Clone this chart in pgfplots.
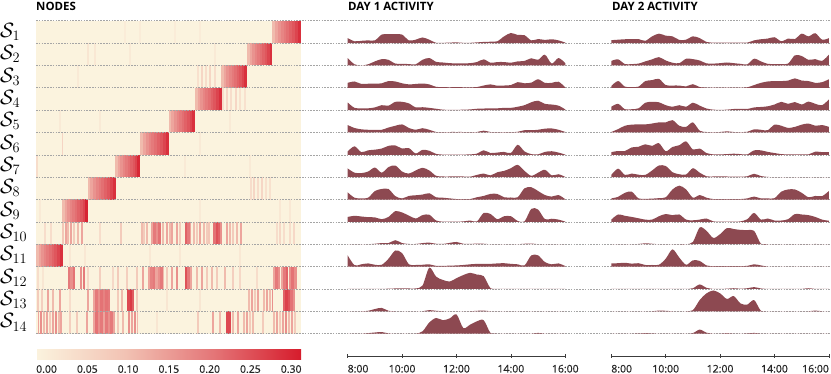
\documentclass[border=0pt]{standalone}
\usepackage{fontspec}
\setmainfont{Open Sans}
\newfontfamily\tickfont{Open Sans}[FakeBold=0.6]
\usepackage{pgfplots}
\usepackage{pgfplotstable}
\pgfplotsset{compat=1.18}

\definecolor{cream}{RGB}{251,243,222}
\definecolor{ridge}{RGB}{141,73,81}
\definecolor{gridgray}{RGB}{165,165,165}
\definecolor{axisgray}{RGB}{60,60,60}

% heatmap stripes: x position (px), row, value, width (px)
\pgfplotstableread{
x r c w
273.64 1 0.12 2.88
276.52 1 0.15 2.88
279.40 1 0.175 2.88
282.28 1 0.195 2.88
285.16 1 0.21 2.88
288.04 1 0.225 2.88
290.92 1 0.24 2.88
293.80 1 0.255 2.88
296.68 1 0.275 2.88
299.56 1 0.30 2.88
248.45 2 0.12 2.5
250.95 2 0.15 2.5
253.45 2 0.175 2.5
255.95 2 0.195 2.5
258.45 2 0.21 2.5
260.95 2 0.225 2.5
263.45 2 0.24 2.5
265.95 2 0.255 2.5
268.45 2 0.275 2.5
270.95 2 0.30 2.5
222.79 3 0.12 2.57
225.36 3 0.15 2.57
227.93 3 0.175 2.57
230.50 3 0.195 2.57
233.07 3 0.21 2.57
235.64 3 0.225 2.57
238.21 3 0.24 2.57
240.78 3 0.255 2.57
243.35 3 0.275 2.57
245.92 3 0.30 2.57
196.33 4 0.12 2.65
198.98 4 0.15 2.65
201.63 4 0.175 2.65
204.28 4 0.195 2.65
206.93 4 0.21 2.65
209.58 4 0.225 2.65
212.23 4 0.24 2.65
214.88 4 0.255 2.65
217.53 4 0.275 2.65
220.18 4 0.30 2.65
170.3 5 0.12 2.6
172.9 5 0.15 2.6
175.5 5 0.175 2.6
178.1 5 0.195 2.6
180.7 5 0.21 2.6
183.3 5 0.225 2.6
185.9 5 0.24 2.6
188.5 5 0.255 2.6
191.1 5 0.275 2.6
193.7 5 0.30 2.6
141.45 6 0.12 2.9
144.35 6 0.15 2.9
147.25 6 0.175 2.9
150.15 6 0.195 2.9
153.05 6 0.21 2.9
155.95 6 0.225 2.9
158.85 6 0.24 2.9
161.75 6 0.255 2.9
164.65 6 0.275 2.9
167.55 6 0.30 2.9
116.73 7 0.12 2.45
119.18 7 0.15 2.45
121.63 7 0.175 2.45
124.08 7 0.195 2.45
126.53 7 0.21 2.45
128.98 7 0.225 2.45
131.43 7 0.24 2.45
133.88 7 0.255 2.45
136.33 7 0.275 2.45
138.78 7 0.31 2.45
89.09 8 0.12 2.78
91.87 8 0.15 2.78
94.65 8 0.175 2.78
97.43 8 0.195 2.78
100.21 8 0.21 2.78
102.99 8 0.225 2.78
105.77 8 0.24 2.78
108.55 8 0.255 2.78
111.33 8 0.275 2.78
114.11 8 0.30 2.78
63.76 9 0.12 2.52
66.28 9 0.15 2.52
68.80 9 0.175 2.52
71.32 9 0.195 2.52
73.84 9 0.21 2.52
76.36 9 0.225 2.52
78.88 9 0.24 2.52
81.40 9 0.255 2.52
83.92 9 0.275 2.52
86.44 9 0.315 2.52
37.33 11 0.12 2.65
39.98 11 0.15 2.65
42.63 11 0.175 2.65
45.28 11 0.195 2.65
47.93 11 0.21 2.65
50.58 11 0.225 2.65
53.23 11 0.24 2.65
55.88 11 0.255 2.65
58.53 11 0.275 2.65
61.18 11 0.30 2.65
125 1 0.015 1.5
140 1 0.015 1.5
175 1 0.015 1.5
200 1 0.015 1.5
88 2 0.03 1.5
95 2 0.025 1.5
130 2 0.02 1.5
215 2 0.02 1.5
78 3 0.02 1.5
198 3 0.04 1.5
202 3 0.065 1.5
206 3 0.05 1.5
210 3 0.065 1.5
215 3 0.05 1.5
223 4 0.05 1.5
227 4 0.065 1.5
231 4 0.05 1.5
236 4 0.065 1.5
240 4 0.04 1.5
245 4 0.04 1.5
60 5 0.02 1.5
100 5 0.02 1.5
230 5 0.02 1.5
62.3 6 0.07 1.2
200 6 0.02 1.5
37 7 0.05 1.5
185 7 0.02 1.5
250 7 0.02 1.5
251 8 0.05 1.5
254 8 0.065 1.5
258 8 0.05 1.5
262 8 0.065 1.5
266 8 0.04 1.5
270 8 0.04 1.5
40 9 0.02 1.5
200 9 0.02 1.5
280 9 0.025 1.5
290 9 0.025 1.5
45 10 0.05 1.5
50.7 10 0.05 1.5
63.3 10 0.1 1.5
65.7 10 0.15 1.5
68.3 10 0.12 1.5
70.7 10 0.15 1.5
74 10 0.09 1.5
77.7 10 0.12 1.5
82 10 0.15 1.5
100 10 0.05 1.5
120.7 10 0.09 1.5
141.7 10 0.12 1.5
144 10 0.09 1.5
146.7 10 0.12 1.5
152 10 0.15 2.5
154.5 10 0.21 2.5
157 10 0.18 2.5
159.5 10 0.22 2.5
163.3 10 0.12 1.5
166.7 10 0.15 1.5
170 10 0.12 1.5
172 10 0.15 1.5
176.7 10 0.15 1.5
180 10 0.09 1.5
186 10 0.24 2.5
188.5 10 0.21 2.5
190.5 10 0.15 1.5
194 10 0.12 1.5
196.7 10 0.09 1.5
200 10 0.15 1.5
204 10 0.12 1.5
206.7 10 0.09 1.5
209.3 10 0.1 1.5
214.5 10 0.22 2.5
217 10 0.26 2.5
219.5 10 0.24 2.5
221 10 0.18 1.5
226.7 10 0.15 1.5
230 10 0.12 1.5
233.3 10 0.09 1.5
236.7 10 0.12 1.5
240.7 10 0.15 1.5
276.7 10 0.05 1.5
280 10 0.06 1.5
284 10 0.05 1.5
290 10 0.05 1.5
294 10 0.06 1.5
70 11 0.025 1.5
85 11 0.025 1.5
150 11 0.025 1.5
180 11 0.025 1.5
240 11 0.025 1.5
38.3 12 0.05 1.5
43.3 12 0.03 1.5
69 12 0.21 2.5
71.5 12 0.18 2.5
74 12 0.22 2.5
81 12 0.18 2.5
84 12 0.21 2.5
88.3 12 0.06 1.5
100 12 0.08 1.5
113.3 12 0.06 1.5
118.3 12 0.09 1.5
126.7 12 0.08 1.5
136.7 12 0.09 1.5
142.7 12 0.15 1.5
149 12 0.15 2.5
151.5 12 0.2 2.5
154 12 0.21 2.5
156.5 12 0.15 2.5
159 12 0.18 2.5
161.5 12 0.21 2.5
163.5 12 0.12 1.5
166.7 12 0.09 1.5
171.7 12 0.15 1.5
176.7 12 0.18 1.5
186 12 0.26 2.5
188.5 12 0.21 2.5
191 12 0.15 2.5
196.7 12 0.12 1.5
201.7 12 0.15 1.5
206.7 12 0.09 1.5
211.7 12 0.12 1.5
216.7 12 0.09 1.5
225 12 0.12 1.5
233.3 12 0.08 1.5
240 12 0.06 1.5
256.7 12 0.05 1.5
274 12 0.15 2.5
276.5 12 0.21 2.5
279 12 0.18 2.5
282 12 0.15 2.5
284.5 12 0.21 2.5
287 12 0.24 2.5
290 12 0.18 2.5
292.5 12 0.22 2.5
295.5 12 0.18 2.5
38.3 13 0.09 1.5
41.7 13 0.08 1.5
48.3 13 0.15 1.5
53.3 13 0.12 1.5
60 13 0.15 1.5
70 13 0.05 1.5
88.3 13 0.15 1.5
94 13 0.15 2.5
96.5 13 0.21 2.5
99 13 0.18 2.5
101.5 13 0.22 2.5
104 13 0.2 2.5
106.5 13 0.22 2.5
109 13 0.21 2.5
118.3 13 0.09 1.5
121.7 13 0.12 1.5
128.5 13 0.27 2.5
131 13 0.29 2.5
133 13 0.25 1.5
136.7 13 0.09 1.5
166.7 13 0.03 1.5
200 13 0.03 1.5
249 13 0.12 1.5
252 13 0.15 1.5
255 13 0.09 1.5
258 13 0.15 1.5
264 13 0.12 1.5
267 13 0.15 1.5
270 13 0.12 1.5
272.5 13 0.18 1.5
284 13 0.24 2.5
286.5 13 0.28 2.5
289 13 0.26 2.5
291.5 13 0.22 2.5
294 13 0.18 2.5
38.5 14 0.15 1.5
41 14 0.18 1.5
44 14 0.12 1.5
47 14 0.15 1.5
50 14 0.09 1.5
53 14 0.15 1.5
56 14 0.18 1.5
59 14 0.12 1.5
61 14 0.15 1.5
70 14 0.08 1.5
76.7 14 0.09 1.5
87.3 14 0.15 1.5
94 14 0.15 2.5
96.5 14 0.22 2.5
99 14 0.18 2.5
101.5 14 0.21 2.5
104 14 0.15 2.5
106.5 14 0.21 2.5
109 14 0.18 2.5
111.5 14 0.21 2.5
114 14 0.15 2.5
118.3 14 0.09 1.5
123.3 14 0.12 1.5
129 14 0.18 2.5
132 14 0.15 2.5
135 14 0.18 2.5
137.5 14 0.12 1.5
156.7 14 0.03 1.5
198.3 14 0.09 1.5
213.3 14 0.15 1.5
220 14 0.12 1.5
227.5 14 0.27 2.5
230 14 0.27 2.5
233.3 14 0.12 1.5
238.3 14 0.15 1.5
244 14 0.12 1.5
247 14 0.15 1.5
250 14 0.09 1.5
253 14 0.12 1.5
263.3 14 0.09 1.5
274 14 0.12 1.5
277 14 0.15 1.5
280 14 0.09 1.5
283 14 0.15 1.5
286 14 0.18 1.5
289 14 0.12 1.5
292 14 0.15 1.5
295 14 0.09 1.5
}\stripes

% activity heights (fraction of a row) per quarter hour, day 1
\pgfplotstableread{
t r1 r2 r3 r4 r5 r6 r7 r8 r9 r10 r11 r12 r13 r14
8.00 0.22 0.33 0.22 0.34 0.33 0.15 0.39 0.32 0.22 0 0.5 0 0 0
8.25 0.08 0.05 0.28 0.1 0.2 0.38 0.2 0.08 0.27 0 0.06 0 0 0
8.50 0.10 0.0 0.17 0.08 0.14 0.12 0.18 0.05 0.24 0 0.1 0 0 0
8.75 0.12 0.05 0.18 0.08 0.12 0.2 0.25 0.08 0.21 0 0.14 0 0.02 0.02
9.00 0.12 0.18 0.18 0.12 0.12 0.23 0.43 0.38 0.2 0.02 0.08 0 0.1 0.05
9.25 0.38 0.28 0.2 0.22 0.12 0.28 0.2 0.47 0.12 0.05 0.08 0 0.15 0.07
9.50 0.40 0.25 0.3 0.2 0.22 0.4 0.45 0.47 0.22 0.05 0.35 0.01 0.02 0.01
9.75 0.40 0.08 0.28 0.37 0.3 0.42 0.52 0.15 0.48 0.18 0.72 0.02 0 0
10.00 0.38 0.07 0.2 0.37 0.36 0.28 0.25 0.05 0.42 0.05 0.6 0.02 0 0
10.25 0.12 0.06 0.15 0.3 0.2 0.3 0.16 0.16 0.28 0.01 0.1 0.02 0 0
10.50 0.15 0.05 0.17 0.12 0.12 0.06 0.3 0.19 0.15 0.01 0.07 0.02 0 0
10.75 0.25 0.25 0.19 0.13 0.19 0.22 0.42 0.22 0.3 0.05 0.08 0.15 0 0.1
11.00 0.15 0.33 0.15 0.1 0.12 0.18 0.3 0.28 0.32 0.07 0.1 0.95 0.05 0.5
11.25 0.01 0.16 0.04 0.06 0.02 0.04 0.06 0.1 0.06 0.02 0.03 0.55 0.02 0.7
11.50 0.01 0.13 0.03 0.02 0.01 0.01 0.03 0.08 0.01 0.01 0.03 0.4 0 0.6
11.75 0.02 0.1 0.02 0.01 0.02 0.01 0.03 0.05 0.01 0.06 0.04 0.33 0 0.68
12.00 0.03 0.09 0.03 0.01 0.02 0.01 0.04 0.02 0.01 0.1 0.05 0.48 0 0.86
12.25 0.01 0.09 0.02 0.02 0.02 0.01 0.03 0.02 0.02 0.02 0.07 0.62 0 0.25
12.50 0.01 0.1 0.02 0.03 0.01 0.02 0.02 0.02 0.06 0.01 0.1 0.72 0 0.4
12.75 0.03 0.15 0.03 0.06 0.02 0.05 0.1 0.1 0.02 0.03 0.12 0.64 0.02 0.55
13.00 0.05 0.27 0.1 0.07 0.08 0.2 0.16 0.16 0.4 0.02 0.12 0.57 0.03 0.6
13.25 0.06 0.12 0.15 0.08 0.02 0.08 0.08 0.25 0.35 0 0.12 0.03 0 0.03
13.50 0.08 0.15 0.09 0.08 0.01 0.1 0.22 0.25 0.12 0 0.14 0 0 0
13.75 0.30 0.15 0.1 0.1 0.01 0.13 0.28 0.1 0.25 0 0.15 0 0 0
14.00 0.45 0.12 0.12 0.1 0.01 0.08 0.4 0.09 0.25 0 0.12 0 0 0
14.25 0.36 0.18 0.25 0.15 0.03 0.45 0.55 0.1 0.04 0 0.1 0 0 0
14.50 0.35 0.2 0.2 0.22 0.1 0.15 0.28 0.5 0.02 0.02 0.05 0 0 0
14.75 0.12 0.32 0.23 0.35 0.1 0.03 0.06 0.55 0.58 0.03 0.5 0 0 0
15.00 0.18 0.25 0.38 0.42 0.12 0.02 0.2 0.38 0.55 0 0.5 0 0 0.03
15.25 0.14 0.48 0.22 0.28 0.17 0.13 0.33 0.2 0.12 0 0.2 0 0 0
15.50 0.17 0.08 0.22 0.25 0.18 0.16 0.08 0.13 0.14 0 0.1 0 0 0
15.75 0.12 0.33 0.27 0.2 0.12 0.1 0.13 0.2 0.1 0 0.14 0 0 0
16.00 0.02 0.1 0.02 0.03 0.02 0.01 0.01 0.01 0.01 0 0.02 0 0 0
}\dayone

% day 2
\pgfplotstableread{
t r1 r2 r3 r4 r5 r6 r7 r8 r9 r10 r11 r12 r13 r14
8.00 0.13 0.2 0.08 0.15 0.02 0.12 0.1 0.05 0.1 0 0.14 0 0 0
8.25 0.15 0.27 0.3 0.28 0.15 0.17 0.38 0.12 0.33 0 0.15 0 0 0
8.50 0.17 0.06 0.05 0.04 0.3 0.17 0.1 0.3 0.27 0 0.17 0 0 0
8.75 0.17 0.06 0.03 0.04 0.35 0.33 0.16 0.35 0.22 0 0.13 0 0 0
9.00 0.18 0.08 0.05 0.08 0.36 0.36 0.11 0.05 0.16 0.01 0.15 0 0 0.01
9.25 0.1 0.18 0.3 0.33 0.36 0.47 0.1 0.03 0.1 0.04 0.07 0 0 0.02
9.50 0.3 0.27 0.34 0.37 0.4 0.4 0.3 0.04 0.1 0.02 0.07 0 0 0.01
9.75 0.42 0.37 0.4 0.35 0.45 0.52 0.52 0.06 0.25 0 0.08 0 0.03 0
10.00 0.33 0.22 0.12 0.22 0.45 0.16 0.5 0.1 0.35 0 0.35 0 0.02 0
10.25 0.3 0.12 0.1 0.15 0.55 0.35 0.22 0.45 0.3 0 0.77 0 0 0
10.50 0.14 0.1 0.1 0.22 0.3 0.43 0.13 0.62 0.33 0 0.4 0 0 0
10.75 0.15 0.3 0.06 0.15 0.25 0.6 0.12 0.45 0.1 0 0.08 0 0 0
11.00 0.3 0.28 0.16 0.33 0.45 0.24 0.4 0.08 0.07 0.1 0.28 0.03 0.05 0.02
11.25 0.22 0.22 0.03 0.2 0.08 0.28 0.2 0.2 0.1 0.75 0.25 0.2 0.5 0.18
11.50 0.05 0.09 0.01 0.07 0.02 0.08 0.04 0.08 0.15 0.6 0.05 0.05 0.8 0.04
11.75 0.02 0.08 0.01 0.02 0.02 0.02 0.03 0.02 0.02 0.28 0.02 0 0.93 0
12.00 0.02 0.1 0.01 0.01 0.02 0.02 0.03 0.02 0.01 0.45 0.02 0 0.8 0
12.25 0.02 0.13 0.01 0.02 0.05 0.03 0.03 0.02 0.01 0.72 0.02 0.01 0.55 0.02
12.50 0.02 0.1 0.01 0.05 0.02 0.05 0.02 0.02 0.01 0.68 0.02 0.03 0.68 0
12.75 0.02 0.07 0.01 0.06 0.02 0.03 0.02 0.02 0.02 0.64 0.02 0.01 0.35 0
13.00 0.02 0.05 0.02 0.05 0.03 0.02 0.04 0.05 0.12 0.63 0.03 0.03 0.3 0.01
13.25 0.12 0.3 0.12 0.12 0.14 0.2 0.15 0.13 0.4 0.6 0.1 0.08 0.5 0.03
13.50 0.17 0.18 0.22 0.14 0.12 0.2 0.05 0.05 0.1 0.02 0.05 0.02 0.02 0
13.75 0.2 0.07 0.28 0.17 0.1 0.13 0.01 0.05 0.15 0 0 0 0 0
14.00 0.26 0.06 0.3 0.25 0.35 0.08 0 0.06 0.06 0 0 0 0 0
14.25 0.08 0.06 0.3 0.37 0.3 0.03 0 0.35 0.06 0 0 0 0 0
14.50 0.2 0.08 0.32 0.28 0.2 0.02 0 0.45 0.12 0 0 0 0 0
14.75 0.18 0.45 0.42 0.36 0.25 0.02 0 0.45 0.35 0 0 0 0 0
15.00 0.42 0.42 0.32 0.25 0.35 0.02 0 0.3 0.33 0 0 0 0 0
15.25 0.3 0.25 0.3 0.38 0.4 0.02 0 0.1 0.3 0 0 0.03 0 0
15.50 0.44 0.28 0.22 0.28 0.3 0.14 0 0.16 0.22 0.01 0 0 0.03 0
15.75 0.15 0.2 0.25 0.22 0.33 0.12 0 0.15 0.1 0 0 0 0 0
16.00 0.22 0.48 0.38 0.48 0.25 0.12 0 0.38 0.05 0 0 0 0 0
}\daytwo

\pgfplotsset{
  ridgefill/.style={fill=ridge, draw=none, smooth, tension=0.5, no markers},
  dayaxis/.style={
    anchor=south west, scale only axis,
    width=217.6bp, height=335.25bp,
    xmin=8, xmax=16, ymin=0, ymax=15,
    axis x line*=bottom, axis y line=none,
    x axis line style={draw=axisgray, line width=0.8bp, -},
    xtick={8,10,12,14,16},
    tick align=center, major tick length=3.5bp,
    tick style={draw=axisgray, line width=0.7bp},
    xticklabel style={font=\tickfont\fontsize{10.5}{12}\selectfont, text=black!85,
      inner xsep=0pt, inner ysep=0.5bp},
    xticklabel shift=6.5bp,
    clip=false,
  },
}

\begin{document}
\begin{tikzpicture}
\useasboundingbox (0,0) rectangle (831bp,-374bp);

% ---- heatmap of node membership ----
\begin{axis}[
  at={(36bp,-333.6bp)}, anchor=south west,
  scale only axis, width=265bp, height=312.9bp,
  xmin=36, xmax=301, ymin=0, ymax=14,
  axis line style={draw=none}, xtick=\empty, ytick=\empty,
  axis background/.style={fill=cream},
  colormap={heat}{rgb255=(251,243,222) rgb255=(242,195,180) rgb255=(228,118,120) rgb255=(214,28,44)},
  point meta min=0, point meta max=0.325,
  colorbar horizontal,
  colorbar style={
    at={(parent axis.south west)}, anchor=north west, yshift=-7.5bp,
    scale only axis, width=265bp, height=9.4bp,
    axis line style={draw=none},
    major tick length=0pt,
    xtick={0,0.05,0.1,0.15,0.2,0.25,0.3},
    /pgf/number format/assume math mode=true,
    xticklabel style={font=\tickfont\fontsize{10.5}{12}\selectfont, text=black!85,
      anchor=north west, inner xsep=0pt, inner ysep=0.5bp,
      /pgf/number format/fixed, /pgf/number format/fixed zerofill,
      /pgf/number format/precision=2},
    xticklabel shift=5.5bp,
  },
]
\addplot[scatter, only marks, mark=|, mark size=11.18bp,
  point meta=explicit,
  scatter/use mapped color={draw=mapped color, fill=mapped color},
  visualization depends on={\thisrow{w} \as \stripew},
  scatter/@pre marker code/.append code={\pgfsetlinewidth{\stripew*1bp+0.3bp}}]
  table[x=x, y expr=14.5-\thisrow{r}, meta=c] {\stripes};
\end{axis}

% row separators
\foreach \k in {0,...,14}{
  \pgfmathsetmacro\yy{-(20.7+\k*22.35)}
  \draw[gridgray, line width=0.6bp, dash pattern=on 1.6bp off 1.2bp] (36bp,\yy bp) -- (831bp,\yy bp);
}

% row labels
\foreach \i in {1,...,14}{
  \pgfmathsetmacro\yy{-(20.7+(\i-0.5)*22.35)}
  \node[anchor=west, inner sep=0pt, font=\fontsize{21.5}{23}\selectfont] at (0bp,\yy bp) {$\mathcal{S}_{\i}$};
}

% ---- day 1 activity ----
\begin{axis}[dayaxis, at={(347.7bp,-355.95bp)},
  xticklabels={\rlap{8:00},10:00,12:00,14:00,16:00}]
\foreach \i/\b in {1/14,2/13,3/12,4/11,5/10,6/9,7/8,8/7,9/6,10/5,11/4,12/3,13/2,14/1}{
  \edef\tmp{\noexpand\addplot[ridgefill] table[x=t, y expr=\b+\noexpand\thisrow{r\i}] {\noexpand\dayone} |- (axis cs:8,\b) -- cycle;}
  \tmp
}
\end{axis}

% ---- day 2 activity ----
\begin{axis}[dayaxis, at={(611.3bp,-355.95bp)},
  xticklabels={\rlap{8:00},10:00,12:00,14:00,\llap{16:00}}]
\foreach \i/\b in {1/14,2/13,3/12,4/11,5/10,6/9,7/8,8/7,9/6,10/5,11/4,12/3,13/2,14/1}{
  \edef\tmp{\noexpand\addplot[ridgefill] table[x=t, y expr=\b+\noexpand\thisrow{r\i}] {\noexpand\daytwo} |- (axis cs:8,\b) -- cycle;}
  \tmp
}
\end{axis}

% panel titles
\begin{scope}[every node/.style={anchor=base west, inner sep=0pt, font=\bfseries\fontsize{11.5}{12}\selectfont}]
\node at (36bp,-10bp) {NODES};
\node at (348bp,-10bp) {DAY 1 ACTIVITY};
\node at (612bp,-10bp) {DAY 2 ACTIVITY};
\end{scope}
\end{tikzpicture}
\end{document}
